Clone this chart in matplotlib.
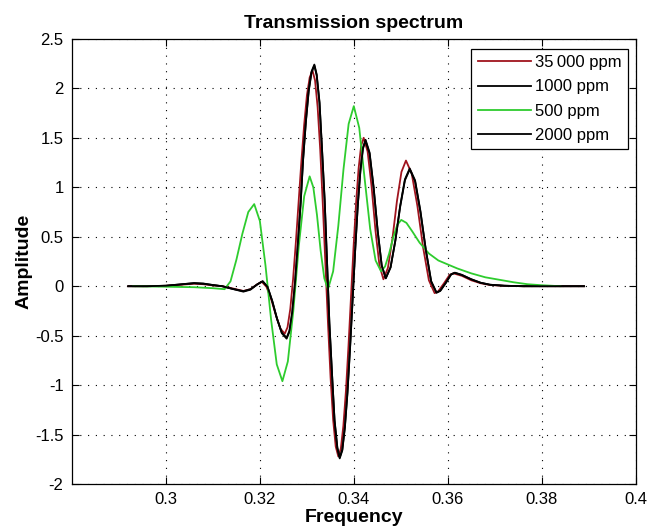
import matplotlib

matplotlib.use("Agg")
import matplotlib.pyplot as plt

# frequency / amplitude samples
freq_1000 = [0.292, 0.296, 0.300, 0.303, 0.306, 0.308, 0.310, 0.312, 0.314, 0.3165,
             0.318, 0.3195, 0.3206, 0.32162, 0.32264, 0.32366, 0.32468, 0.3257,
             0.3263, 0.3269, 0.3275, 0.3281, 0.3287, 0.3292, 0.3298, 0.3304, 0.3310, 0.3316,
             0.3321, 0.3327, 0.3332, 0.3338, 0.3343, 0.3348, 0.3354, 0.3359, 0.3365, 0.3370,
             0.33755, 0.3381, 0.33865, 0.3392, 0.33975, 0.3403, 0.34085, 0.3414, 0.34195, 0.3425,
             0.34336, 0.34422, 0.34508, 0.34594, 0.3468,
             0.34782, 0.34884, 0.34986, 0.35088, 0.3519,
             0.35304, 0.35418, 0.35532, 0.35646, 0.3576,
             0.3584, 0.3596, 0.3607, 0.3615,
             0.363, 0.365, 0.367, 0.369, 0.372, 0.376, 0.389]
amp_1000 = [0.0, 0.0, 0.005, 0.018, 0.03, 0.025, 0.012, 0.0, -0.025, -0.055,
            -0.035, 0.02, 0.05, -0.005, -0.15, -0.33, -0.475, -0.53,
            -0.46, -0.27, 0.04, 0.43, 0.855, 1.28, 1.67, 1.98, 2.17, 2.24,
            2.14, 1.86, 1.42, 0.87, 0.25, -0.37, -0.92, -1.36, -1.64, -1.74,
            -1.66, -1.43, -1.08, -0.63, -0.13, 0.37, 0.82, 1.17, 1.40, 1.48,
            1.35, 1.00, 0.56, 0.21, 0.08,
            0.19, 0.46, 0.81, 1.08, 1.19,
            1.07, 0.76, 0.37, 0.05, -0.066,
            -0.047, 0.035, 0.12, 0.137,
            0.115, 0.07, 0.035, 0.015, 0.005, 0.0, 0.0]

freq_2000 = freq_1000
amp_2000 = [0.0, 0.0, 0.005, 0.018, 0.032, 0.027, 0.012, 0.0, -0.025, -0.05,
            -0.03, 0.02, 0.05, -0.005, -0.15, -0.33, -0.47, -0.52,
            -0.45, -0.26, 0.04, 0.43, 0.85, 1.27, 1.66, 1.97, 2.16, 2.23,
            2.13, 1.85, 1.41, 0.86, 0.25, -0.37, -0.92, -1.35, -1.63, -1.73,
            -1.65, -1.42, -1.07, -0.62, -0.13, 0.37, 0.82, 1.16, 1.39, 1.47,
            1.34, 0.99, 0.56, 0.21, 0.08,
            0.19, 0.46, 0.80, 1.07, 1.18,
            1.06, 0.75, 0.37, 0.05, -0.064,
            -0.046, 0.035, 0.118, 0.135,
            0.113, 0.07, 0.035, 0.015, 0.005, 0.0, 0.0]

freq_35000 = [0.292, 0.296, 0.300, 0.303, 0.306, 0.308, 0.310, 0.312, 0.314, 0.3165,
              0.318, 0.3194, 0.3204, 0.3214, 0.3224, 0.3234, 0.3244, 0.3253,
              0.32589, 0.32648, 0.32707, 0.32766, 0.32825, 0.32884, 0.32943, 0.33002, 0.33061, 0.3312,
              0.33175, 0.3323, 0.33285, 0.3334, 0.33395, 0.3345, 0.33505, 0.3356, 0.33615, 0.3367,
              0.33724, 0.33778, 0.33832, 0.33886, 0.3394, 0.33994, 0.34048, 0.34102, 0.34156, 0.3421,
              0.34294, 0.34378, 0.34462, 0.34546, 0.3463,
              0.34726, 0.34822, 0.34918, 0.35014, 0.3511,
              0.35232, 0.35354, 0.35476, 0.35598, 0.3572,
              0.3580, 0.3592, 0.3604, 0.3612,
              0.363, 0.365, 0.367, 0.369, 0.372, 0.376, 0.389]
amp_35000 = [0.0, 0.0, 0.004, 0.014, 0.025, 0.02, 0.008, 0.0, -0.02, -0.048,
             -0.03, 0.018, 0.045, -0.005, -0.13, -0.29, -0.43, -0.48,
             -0.415, -0.23, 0.07, 0.44, 0.85, 1.26, 1.63, 1.93, 2.11, 2.18,
             2.08, 1.81, 1.38, 0.83, 0.23, -0.37, -0.92, -1.35, -1.62, -1.72,
             -1.64, -1.41, -1.06, -0.61, -0.11, 0.39, 0.84, 1.19, 1.42, 1.50,
             1.36, 1.01, 0.56, 0.21, 0.07,
             0.185, 0.48, 0.86, 1.155, 1.27,
             1.14, 0.81, 0.39, 0.06, -0.07,
             -0.05, 0.03, 0.115, 0.13,
             0.105, 0.06, 0.03, 0.012, 0.004, 0.0, 0.0]

freq_500 = [0.293, 0.300, 0.306, 0.310, 0.3125,
            0.31376, 0.31502, 0.31628, 0.31754, 0.3188,
            0.3200, 0.3212, 0.3224, 0.3236, 0.3248,
            0.32596, 0.32712, 0.32828, 0.32944, 0.3306,
            0.33138, 0.33216, 0.33294, 0.33372, 0.3345,
            0.3356, 0.3367, 0.3378, 0.3389, 0.3400,
            0.34116, 0.34232, 0.34348, 0.34464, 0.3458,
            0.34666, 0.34752, 0.34838, 0.34924, 0.3501,
            0.3512, 0.3525, 0.354, 0.356, 0.358, 0.360, 0.362, 0.365, 0.368,
            0.371, 0.374, 0.377, 0.380, 0.384]
amp_500 = [0.0, -0.005, -0.01, -0.02, -0.03,
           0.05, 0.27, 0.53, 0.75, 0.83,
           0.66, 0.21, -0.34, -0.79, -0.96,
           -0.76, -0.25, 0.40, 0.91, 1.11,
           1.0, 0.72, 0.36, 0.08, -0.03,
           0.15, 0.61, 1.18, 1.64, 1.82,
           1.60, 1.08, 0.58, 0.26, 0.15,
           0.20, 0.33, 0.49, 0.62, 0.67,
           0.64, 0.55, 0.44, 0.33, 0.26, 0.22, 0.18, 0.13, 0.09,
           0.065, 0.04, 0.02, 0.01, 0.0]

labels = ["35\u2009000 ppm", "1000 ppm", "500 ppm", "2000 ppm"]
colors = ["#A0141E", "black", "#2ECC2E", "black"]

x_ticks = [0.30, 0.32, 0.34, 0.36, 0.38, 0.40]
x_tick_labels = ["0.3", "0.32", "0.34", "0.36", "0.38", "0.4"]
y_ticks = [-2, -1.5, -1, -0.5, 0, 0.5, 1, 1.5, 2, 2.5]
y_tick_labels = ["-2", "-1.5", "-1", "-0.5", "0", "0.5", "1", "1.5", "2", "2.5"]

plt.rcParams["font.family"] = ["Liberation Sans", "DejaVu Sans"]
plt.rcParams["axes.unicode_minus"] = False

fig = plt.figure(figsize=(6.48, 5.32), dpi=100)
ax = fig.add_axes([0.111, 0.090, 0.870, 0.837])

series = [(freq_35000, amp_35000), (freq_1000, amp_1000),
          (freq_500, amp_500), (freq_2000, amp_2000)]
for (fx, fy), lab, col in zip(series, labels, colors):
    ax.plot(fx, fy, color=col, linewidth=1.3, label=lab)

ax.set_xlim(0.28, 0.40)
ax.set_ylim(-2, 2.5)
ax.set_xticks(x_ticks)
ax.set_xticklabels(x_tick_labels)
ax.set_yticks(y_ticks)
ax.set_yticklabels(y_tick_labels)
ax.tick_params(direction="in", top=True, right=True, length=5, width=0.8,
               labelsize=12, pad=6)
ax.grid(True, linestyle=(0, (1, 6)), color="black", linewidth=0.8)
for sp in ax.spines.values():
    sp.set_linewidth(0.9)

ax.set_title("Transmission spectrum", fontsize=14, fontweight="bold", pad=8)
ax.set_xlabel("Frequency", fontsize=14, fontweight="bold", labelpad=1)
ax.set_ylabel("Amplitude", fontsize=14, fontweight="bold", labelpad=2)

leg = ax.legend(loc="upper right", bbox_to_anchor=(0.986, 0.978), fontsize=12,
                fancybox=False, framealpha=1, edgecolor="black",
                handlelength=3.2, handletextpad=0.2, labelspacing=0.55,
                borderpad=0.4, borderaxespad=0)
leg.get_frame().set_linewidth(0.9)

fig.savefig("out.png", dpi=100)
